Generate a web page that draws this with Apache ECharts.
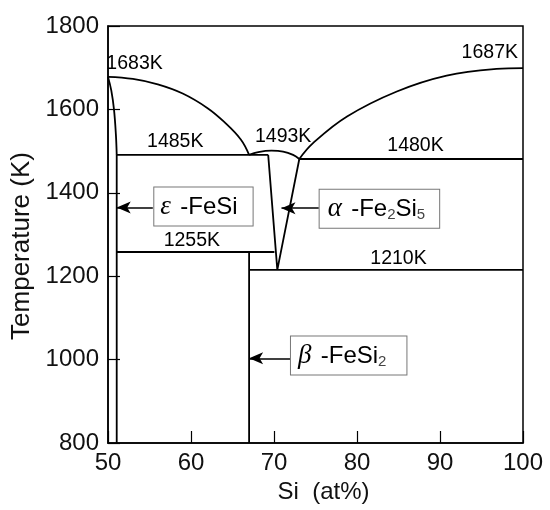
<!DOCTYPE html>
<html>
<head>
<meta charset="utf-8">
<script src="https://cdn.jsdelivr.net/npm/echarts@6/dist/echarts.min.js"></script>
<style>
  html, body { margin: 0; padding: 0; background: #fff; }
  #chart { width: 550px; height: 510px; }
</style>
</head>
<body>
<div id="chart"></div>
<script>
// phase boundaries, [Si at%, temperature K]
const solidusLeft = [[50, 1678], [50.4, 1645], [50.72, 1600], [50.95, 1540], [51.05, 1491]]
const fesiLine = [[51.05, 1491], [51.05, 800]]
const liquidusLeft = [[50, 1678], [53, 1673], [56, 1660], [59, 1638], [62, 1603], [64, 1570], [66, 1528], [67, 1491]]
const dome = [[67, 1491], [68.1, 1497.5], [69.7, 1501], [71.1, 1499], [72.3, 1491], [73.05, 1481]]
const liquidusRight = [[73.05, 1481], [74.7, 1519], [78.8, 1583], [84.8, 1643], [90.8, 1681], [96.8, 1697], [100, 1699]]
const eutecticLeft = [[51.05, 1491], [69.3, 1491]]
const eutecticRight = [[73.05, 1481], [100, 1481]]
const wedge = [[69.3, 1491], [70.4, 1215], [73.05, 1481]]
const line1255 = [[51.05, 1258], [70.05, 1258]]
const fesi2Line = [[67, 1258], [67, 800]]
const line1210 = [[67, 1215], [100, 1215]]

// text annotations: [text, x, y]
const tempLabels = [
  ['1683K', 53.2, 1710],
  ['1485K', 58.1, 1523],
  ['1493K', 71.1, 1535],
  ['1480K', 87.05, 1513],
  ['1687K', 96.0, 1735],
  ['1255K', 60.1, 1285],
  ['1210K', 85.0, 1243],
]
const phaseLabels = [
  ['{g|ε} {t|-FeSi}', 61.5, 1367],
  ['{g|α} {t|-Fe}{s|2}{t|Si}{s|5}', 82.7, 1362],
  ['{g|β} {t|-FeSi}{s|2}', 79.0, 1010],
]
const arrows = [
  [[55.4, 1365], [51.05, 1365]],
  [[75.4, 1363], [70.9, 1363]],
  [[72.0, 1003], [67, 1003]],
]

const xTicks = { min: 50, max: 100, interval: 10 }
const yTicks = { min: 800, max: 1800, interval: 200 }

// box padding per phase label, tuned to the reference boxes
const boxPads = [[5, 15, 4, 6], [5, 14, 4, 8], [5, 20, 4, 7]]

const SANS = 'Liberation Sans, Arial, sans-serif'
const chart = echarts.init(document.getElementById('chart'))

function boundary(data, smooth) {
  return {
    type: 'line',
    data: data,
    smooth: smooth || false,
    symbol: 'none',
    silent: true,
    lineStyle: { color: '#000', width: 1.8 },
  }
}

chart.setOption({
  animation: false,
  backgroundColor: '#fff',
  textStyle: { fontFamily: SANS },
  grid: {
    left: 108, right: 27, top: 26, bottom: 67,
    show: true, borderColor: '#000', borderWidth: 1.5,
  },
  xAxis: {
    type: 'value',
    min: xTicks.min, max: xTicks.max, interval: xTicks.interval,
    name: 'Si  (at%)',
    nameLocation: 'middle',
    nameGap: 35,
    nameTextStyle: { fontSize: 24, color: '#111', padding: [0, 0, 0, 16] },
    axisLine: { lineStyle: { color: '#000', width: 1.5 } },
    axisTick: { inside: true, length: 12, lineStyle: { color: '#000', width: 1.2 } },
    axisLabel: { fontSize: 24, color: '#111', margin: 8 },
    splitLine: { show: false },
  },
  yAxis: {
    type: 'value',
    min: yTicks.min, max: yTicks.max, interval: yTicks.interval,
    name: 'Temperature (K)',
    nameLocation: 'middle',
    nameGap: 70,
    nameTextStyle: { fontSize: 26, color: '#111', padding: [0, 23, 0, 0] },
    axisLine: { lineStyle: { color: '#000', width: 1.5 } },
    axisTick: { inside: true, length: 12, lineStyle: { color: '#000', width: 1.2 } },
    axisLabel: { fontSize: 24, color: '#111', margin: 9, formatter: v => String(v) },
    splitLine: { show: false },
  },
  series: [
    boundary(solidusLeft, 0.4),
    boundary(fesiLine),
    boundary(liquidusLeft, 0.4),
    boundary(dome, 0.4),
    boundary(liquidusRight, 0.4),
    boundary(eutecticLeft),
    boundary(eutecticRight),
    boundary(wedge),
    boundary(line1255),
    boundary(fesi2Line),
    boundary(line1210),
    {
      type: 'line',
      data: [],
      silent: true,
      markLine: {
        silent: true,
        symbol: ['none', 'arrow'],
        symbolSize: [9, 14],
        label: { show: false },
        lineStyle: { color: '#000', width: 1.5, type: 'solid' },
        data: arrows.map(a => [{ coord: a[0] }, { coord: a[1] }]),
      },
    },
    {
      type: 'scatter',
      symbolSize: 0,
      silent: true,
      itemStyle: { opacity: 1 },
      data: tempLabels.map(d => ({ name: d[0], value: [d[1], d[2]] })),
      label: {
        show: true, position: 'inside', formatter: p => p.name,
        fontSize: 19.5, color: '#000', fontFamily: SANS,
      },
    },
    {
      type: 'scatter',
      symbolSize: 0,
      silent: true,
      z: 5,
      itemStyle: { opacity: 1 },
      data: phaseLabels.map((d, i) => ({
        name: d[0], value: [d[1], d[2]], label: { padding: boxPads[i] },
      })),
      label: {
        show: true, position: 'inside', formatter: p => p.name,
        backgroundColor: '#fff', borderColor: '#777', borderWidth: 1,
        rich: {
          g: { fontSize: 27, fontStyle: 'italic', fontFamily: 'Liberation Serif, serif', color: '#000', lineHeight: 29, padding: [0, 6, 0, 0] },
          t: { fontSize: 24, fontFamily: SANS, color: '#000', lineHeight: 29 },
          s: { fontSize: 15, fontFamily: SANS, color: '#444', lineHeight: 15, verticalAlign: 'bottom', padding: [0, 0, 1, 0] },
        },
      },
    },
  ],
})
</script>
</body>
</html>
